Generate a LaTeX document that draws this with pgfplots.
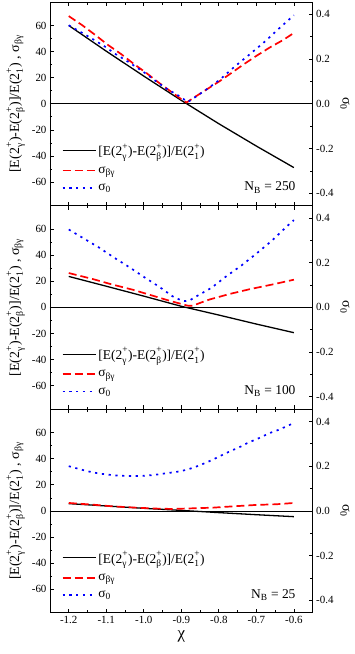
\documentclass[border=0pt]{standalone}
\usepackage{fontspec}
\setmainfont{Liberation Serif}
\usepackage{pgfplots}
\pgfplotsset{compat=1.18}

% stacked superscript/subscript in text mode
\newcommand{\sx}[2]{\setbox0\hbox{\raisebox{0.12em}{\textsuperscript{#1}}}%
  \setbox2\hbox{\raisebox{-0.12em}{\textsubscript{#2}}}%
  \ifdim\wd0>\wd2 \rlap{\box2}\box0\else\rlap{\box0}\box2\fi}
\newcommand{\ratio}{[E(2\sx{+}{γ})-E(2\sx{+}{β})]/E(2\sx{+}{1})}

\definecolor{myred}{RGB}{255,0,0}
\definecolor{myblue}{RGB}{0,0,255}

\pgfplotsset{
  panel/.style={
    scale only axis, width=262.7bp, height=203.6bp,
    anchor=south west,
    xmin=-1.25, xmax=-0.55,
    tick align=inside,
    major tick length=4bp, minor tick length=2.5bp,
    every tick/.style={black, line width=0.7bp},
    axis line style={line width=0.9bp},
    tick label style={font=\fontsize{11}{13}\selectfont},
    /pgf/number format/assume math mode=true,
  },
  leftax/.style={
    panel,
    ymin=-78, ymax=78,
    ytick={-60,-40,-20,0,20,40,60}, minor y tick num=1,
    xtick={-1.2,-1.1,-1.0,-0.9,-0.8,-0.7,-0.6}, minor x tick num=1,
    ytick pos=left,
    ylabel={\ratio\ , σ\textsubscript{βγ}},
    ylabel style={font=\fontsize{14}{16}\selectfont},
    legend style={draw=none, fill=none, at={(rel axis cs:0.04,0.05)}, anchor=south west,
      font=\fontsize{13.5}{15}\selectfont, row sep=5bp, inner sep=1bp,
      cells={anchor=west}},
    legend image code/.code={\draw[##1] (0bp,0bp) -- (33bp,0bp);},
  },
  rightax/.style={
    panel,
    axis y line*=right, axis x line=none,
    ymin=-0.455, ymax=0.455,
    ytick={-0.4,-0.2,0,0.2,0.4}, minor y tick num=1,
    yticklabel style={/pgf/number format/.cd, fixed, fixed zerofill, precision=1, assume math mode=true},
    ylabel={σ\textsubscript{0}},
    ylabel style={font=\fontsize{14}{16}\selectfont, rotate=180},
  },
  blackline/.style={black, line width=1.3bp},
  redline/.style={myred, line width=1.7bp, dash pattern=on 8bp off 4bp},
  blueline/.style={myblue, line width=1.7bp, dash pattern=on 2.2bp off 4.6bp},
}

\begin{document}
\begin{tikzpicture}
\useasboundingbox (-50bp,-41.3bp) rectangle (305bp,612.8bp);

% ---------- N_B = 250 ----------
\begin{axis}[leftax, at={(0,407.2bp)}, xticklabels={}]
  \draw[black, line width=0.8bp] (axis cs:-1.25,0) -- (axis cs:-0.55,0);
  \addplot[blackline] coordinates {
    (-1.2,60)(-1.1,40.3)(-1.0,21.2)(-0.9,2.6)(-0.8,-15.3)(-0.7,-32.4)(-0.6,-48.9)};
  \addplot[redline] coordinates {
    (-1.2,67.2)(-1.163,60)(-1.127,52.2)(-1.096,45.2)(-1.06,38)(-1.025,30.2)
    (-0.994,23.8)(-0.963,16.8)(-0.926,9)(-0.9,3.5)(-0.886,1.0)(-0.864,5.2)
    (-0.833,10.9)(-0.798,17.3)(-0.762,24.5)(-0.734,30.2)(-0.7,36.7)
    (-0.664,43.2)(-0.629,48.8)(-0.6,54.3)};
  \addlegendimage{blueline}
  \legend{\ratio, σ\textsubscript{βγ}, σ\textsubscript{0}}
  \node[anchor=base east, font=\fontsize{13.5}{16}\selectfont] at (rel axis cs:0.948,0.072) {N\textsubscript{B} = 250};
\end{axis}
\begin{axis}[rightax, at={(0,407.2bp)}]
  \addplot[blueline] coordinates {
    (-1.2,0.351)(-1.158,0.311)(-1.136,0.289)(-1.1,0.252)(-1.078,0.225)
    (-1.038,0.184)(-0.998,0.139)(-0.963,0.095)(-0.939,0.067)(-0.918,0.047)
    (-0.9,0.029)(-0.884,0.008)(-0.878,0.013)(-0.838,0.058)(-0.798,0.107)
    (-0.758,0.166)(-0.72,0.218)(-0.678,0.277)(-0.638,0.339)(-0.6,0.396)};
\end{axis}

% ---------- N_B = 100 ----------
\begin{axis}[leftax, at={(0,203.6bp)}, xticklabels={}]
  \draw[black, line width=0.8bp] (axis cs:-1.25,0) -- (axis cs:-0.55,0);
  \addplot[blackline] coordinates {
    (-1.2,23.7)(-1.1,16.2)(-1.0,8.6)(-0.9,0.8)(-0.8,-5.9)(-0.7,-12.8)(-0.6,-19.4)};
  \addplot[redline] coordinates {
    (-1.2,26.3)(-1.136,21.7)(-1.083,17.4)(-1.029,13.5)(-0.985,9.7)(-0.932,5.1)
    (-0.883,1.3)(-0.869,1.3)(-0.85,3.4)(-0.825,6.0)(-0.772,10.2)(-0.718,13.9)
    (-0.656,17.6)(-0.6,21.2)};
  \addlegendimage{blueline}
  \legend{\ratio, σ\textsubscript{βγ}, σ\textsubscript{0}}
  \node[anchor=base east, font=\fontsize{13.5}{16}\selectfont] at (rel axis cs:0.948,0.072) {N\textsubscript{B} = 100};
\end{axis}
\begin{axis}[rightax, at={(0,203.6bp)}]
  \addplot[blueline] coordinates {
    (-1.2,0.348)(-1.158,0.306)(-1.118,0.266)(-1.078,0.221)(-1.038,0.179)
    (-0.998,0.134)(-0.958,0.091)(-0.923,0.049)(-0.9,0.031)(-0.889,0.028)
    (-0.878,0.031)(-0.86,0.049)(-0.82,0.087)(-0.78,0.139)(-0.74,0.187)
    (-0.7,0.24)(-0.66,0.296)(-0.62,0.36)(-0.6,0.39)};
\end{axis}

% ---------- N_B = 25 ----------
\begin{axis}[leftax, at={(0,0)}, xlabel={χ},
  xlabel style={font=\fontsize{17}{19}\selectfont},
  xticklabel style={/pgf/number format/.cd, fixed, fixed zerofill, precision=1, assume math mode=true}]
  \draw[black, line width=0.8bp] (axis cs:-1.25,0) -- (axis cs:-0.55,0);
  \addplot[blackline] coordinates {
    (-1.2,5.6)(-1.1,3.8)(-1.0,2.0)(-0.9,0.4)(-0.8,-1.3)(-0.7,-2.9)(-0.6,-4.4)};
  \addplot[redline] coordinates {
    (-1.2,6.1)(-1.136,4.8)(-1.083,3.5)(-1.02,2.5)(-0.967,1.8)(-0.923,1.5)
    (-0.869,2.0)(-0.816,2.5)(-0.763,3.5)(-0.7,4.6)(-0.647,5.1)(-0.6,6.1)};
  \addlegendimage{blueline}
  \legend{\ratio, σ\textsubscript{βγ}, σ\textsubscript{0}}
  \node[anchor=base east, font=\fontsize{13.5}{16}\selectfont] at (rel axis cs:0.948,0.072) {N\textsubscript{B} = 25};
\end{axis}
\begin{axis}[rightax, at={(0,0)}]
  \addplot[blueline] coordinates {
    (-1.2,0.2)(-1.18,0.191)(-1.158,0.181)(-1.138,0.173)(-1.118,0.167)
    (-1.099,0.163)(-1.078,0.159)(-1.058,0.157)(-1.038,0.156)(-1.019,0.156)
    (-0.998,0.157)(-0.979,0.16)(-0.958,0.164)(-0.939,0.169)(-0.918,0.173)
    (-0.898,0.179)(-0.878,0.188)(-0.859,0.199)(-0.838,0.213)(-0.819,0.227)
    (-0.798,0.244)(-0.78,0.259)(-0.76,0.274)(-0.74,0.289)(-0.72,0.307)
    (-0.7,0.32)(-0.68,0.336)(-0.66,0.351)(-0.64,0.363)(-0.62,0.378)(-0.6,0.393)};
\end{axis}
\end{tikzpicture}
\end{document}
